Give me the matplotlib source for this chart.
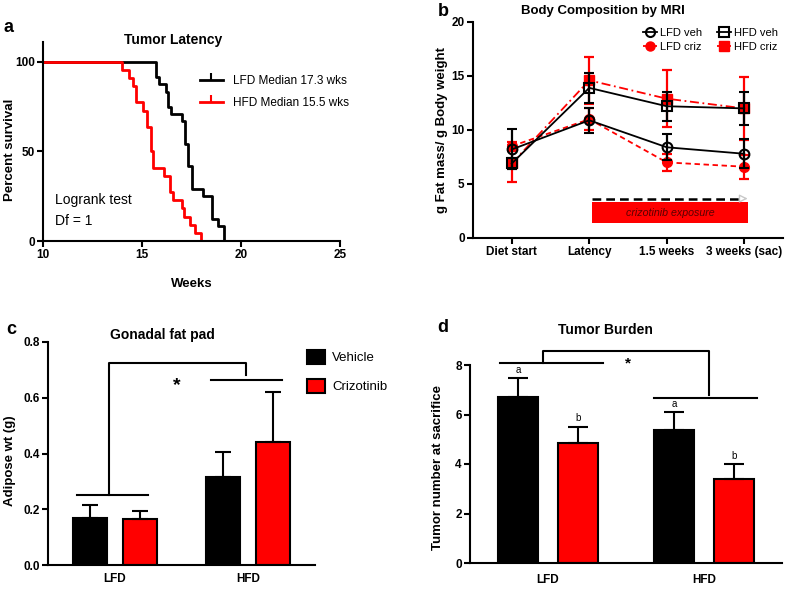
import matplotlib
matplotlib.use('Agg')
import matplotlib.pyplot as plt
from matplotlib.patches import Rectangle, Patch
from matplotlib.lines import Line2D

plt.rcParams['font.family'] = ['Liberation Sans', 'DejaVu Sans']

W, H = 785, 589

# ---------------- Panel a: survival ----------------
lfd_weeks = [0, 15.7, 15.87, 16.2, 16.33, 16.45, 17.0, 17.15, 17.3, 17.55, 18.1, 18.55, 18.85, 19.15]
lfd_surv = [100, 91.7, 87.5, 83.3, 75.0, 70.8, 66.7, 54.2, 41.7, 29.2, 25.0, 12.5, 8.3, 0]
hfd_weeks = [0, 13.97, 14.36, 14.53, 14.68, 15.03, 15.24, 15.44, 15.57, 16.11, 16.41, 16.55,
             17.0, 17.1, 17.4, 17.68, 18.0]
hfd_surv = [100, 95.5, 90.9, 86.4, 77.3, 72.7, 63.6, 50.0, 40.9, 36.4, 27.3, 22.7,
            18.2, 13.6, 9.1, 4.5, 0]
surv_labels = ['LFD Median 17.3 wks', 'HFD Median 15.5 wks']

# ---------------- Panel b: body composition ----------------
timepoints = ['Diet start', 'Latency', '1.5 weeks', '3 weeks (sac)']
lfd_veh = [8.2, 10.9, 8.4, 7.8]
lfd_veh_err = [1.85, 1.15, 1.2, 1.35]
lfd_criz = [8.5, 11.0, 7.0, 6.6]
lfd_criz_err = [0.4, 1.0, 0.75, 1.1]
hfd_veh = [6.9, 13.9, 12.2, 12.0]
hfd_veh_err = [0.55, 1.4, 1.35, 1.5]
hfd_criz = [6.9, 14.6, 12.9, 12.0]
hfd_criz_err = [1.7, 2.2, 2.65, 2.9]

# ---------------- Panel c: gonadal fat ----------------
diets = ['LFD', 'HFD']
fat_vehicle = [0.17, 0.315]
fat_vehicle_err = [0.047, 0.09]
fat_criz = [0.166, 0.44]
fat_criz_err = [0.027, 0.18]

# ---------------- Panel d: tumor burden ----------------
tumor_vehicle = [6.72, 5.37]
tumor_vehicle_err = [0.75, 0.73]
tumor_criz = [4.85, 3.39]
tumor_criz_err = [0.65, 0.61]
tumor_letters_vehicle = ['a', 'a']
tumor_letters_criz = ['b', 'b']

RED = '#ff0000'
BLK = '#000000'

fig = plt.figure(figsize=(W / 100, H / 100), dpi=100)


def add_axes_px(left, right, top, bottom):
    return fig.add_axes([left / W, (H - bottom) / H, (right - left) / W, (bottom - top) / H])


def style(ax, lw=1.5):
    for s in ['top', 'right']:
        ax.spines[s].set_visible(False)
    for s in ['left', 'bottom']:
        ax.spines[s].set_linewidth(lw)
    ax.tick_params(direction='out', width=lw, length=4, labelsize=8.5, pad=2)


def bold_ticks(ax):
    for lab in ax.get_xticklabels() + ax.get_yticklabels():
        lab.set_fontweight('bold')


def ftext(px, py, s, **kw):
    fig.text(px / W, 1 - py / H, s, **kw)


# ======== Panel a ========
axA = add_axes_px(43, 340, 42, 241)
style(axA)
axA.step(lfd_weeks, lfd_surv, where='post', color=BLK, lw=2)
axA.step(hfd_weeks, hfd_surv, where='post', color=RED, lw=2)
axA.set_xlim(10, 25)
axA.set_ylim(0, 111)
axA.set_xticks([10, 15, 20, 25])
axA.set_yticks([0, 50, 100])
axA.set_xlabel('Weeks', fontsize=9.5, fontweight='bold', labelpad=12)
axA.set_ylabel('Percent survival', fontsize=9.5, fontweight='bold')
axA.yaxis.set_label_coords(-0.090, 0.46)
bold_ticks(axA)
axA.text(0.438, 1.01, 'Tumor Latency', transform=axA.transAxes, ha='center', va='center',
         fontsize=10, fontweight='bold')
axA.text(0.04, 0.205, 'Logrank test', transform=axA.transAxes, fontsize=10, va='center')
axA.text(0.04, 0.10, 'Df = 1', transform=axA.transAxes, fontsize=10, va='center')
hA = [Line2D([0], [0], color=BLK, lw=2, marker=2, markersize=5, markeredgewidth=1.5),
      Line2D([0], [0], color=RED, lw=2, marker=2, markersize=5, markeredgewidth=1.5)]
axA.legend(hA, surv_labels, loc='upper left', bbox_to_anchor=(0.529, 0.835), frameon=False,
           fontsize=8.5, borderpad=0, borderaxespad=0, handlelength=1.9, handletextpad=0.9,
           labelspacing=0.85, numpoints=1)

# ======== Panel b ========
axB = add_axes_px(473, 783, 22, 238)
style(axB)
xb = list(range(len(timepoints)))
ekw = dict(capsize=3.5, elinewidth=1.6, capthick=1.6)
axB.errorbar(xb, hfd_criz, yerr=hfd_criz_err, color=RED, ls=(0, (5, 2, 1, 2)), lw=1.3,
             marker='s', ms=7, mfc=RED, mec=RED, zorder=3, **ekw)
axB.errorbar(xb, lfd_criz, yerr=lfd_criz_err, color=RED, ls=(0, (3, 2)), lw=1.3,
             marker='o', ms=7, mfc=RED, mec=RED, zorder=3, **ekw)
axB.errorbar(xb, hfd_veh, yerr=hfd_veh_err, color=BLK, ls='-', lw=1.3,
             marker='s', ms=7, mfc='none', mec=BLK, mew=1.5, zorder=4, **ekw)
axB.errorbar(xb, lfd_veh, yerr=lfd_veh_err, color=BLK, ls='-', lw=1.3,
             marker='o', ms=7, mfc='none', mec=BLK, mew=1.5, zorder=4, **ekw)
axB.set_xlim(-0.5, 3.5)
axB.set_ylim(0, 20)
axB.set_xticks(xb)
axB.set_xticklabels(timepoints)
axB.set_yticks([0, 5, 10, 15, 20])
axB.set_ylabel('g Fat mass/ g Body weight', fontsize=9.5, fontweight='bold')
axB.yaxis.set_label_coords(-0.081, 0.5)
bold_ticks(axB)
axB.text(0.419, 1.051, 'Body Composition by MRI', transform=axB.transAxes, ha='center',
         va='center', fontsize=9.5, fontweight='bold')
axB.add_patch(Rectangle((1.03, 1.4), 2.02, 1.9, facecolor=RED, edgecolor='none', zorder=1))
axB.text(2.05, 2.35, 'crizotinib exposure', ha='center', va='center', fontsize=7.7,
         style='italic', color='#5a0000', zorder=2)
axB.plot([1.03, 2.95], [3.65, 3.65], ls=(0, (3.5, 2)), color=BLK, lw=1.8, zorder=2)
axB.annotate('', xy=(3.08, 3.65), xytext=(2.93, 3.65),
             arrowprops=dict(arrowstyle='-|>', color='#c8c8c8', fc='white', lw=1,
                             mutation_scale=12), zorder=2)
hB = [Line2D([0], [0], color=BLK, lw=1.3, marker='o', ms=6.5, mfc='none', mew=1.5),
      Line2D([0], [0], color=RED, lw=1.3, ls=(0, (2, 1)), marker='o', ms=6.5, mfc=RED, mec=RED),
      Line2D([0], [0], color=BLK, lw=1.3, marker='s', ms=6.5, mfc='none', mew=1.5),
      Line2D([0], [0], color=RED, lw=1.3, ls=(0, (2, 1)), marker='s', ms=6.5, mfc=RED, mec=RED)]
axB.legend(hB, ['LFD veh', 'LFD criz', 'HFD veh', 'HFD criz'], ncol=2, loc='upper left',
           bbox_to_anchor=(0.548, 0.972), frameon=False, fontsize=8, borderpad=0,
           borderaxespad=0, handlelength=1.25, handletextpad=0.3, labelspacing=0.35,
           columnspacing=1.3, numpoints=1)

# ======== Panel c ========
axC = add_axes_px(48, 315, 342, 565)
style(axC)
xc = [0, 1]
off, bw = 0.1875, 0.255
bkw = dict(edgecolor=BLK, linewidth=1.5)
axC.bar([x - off for x in xc], fat_vehicle, bw, color=BLK, label='Vehicle',
        yerr=[[0, 0], fat_vehicle_err], error_kw=dict(capsize=6, elinewidth=1.5, capthick=1.5,
                                                       ecolor=BLK), **bkw)
axC.bar([x + off for x in xc], fat_criz, bw, color=RED, label='Crizotinib',
        yerr=[[0, 0], fat_criz_err], error_kw=dict(capsize=6, elinewidth=1.5, capthick=1.5,
                                                    ecolor=BLK), **bkw)
axC.set_xlim(-0.5, 1.5)
axC.set_ylim(0, 0.8)
axC.set_xticks(xc)
axC.set_xticklabels(diets)
axC.tick_params(axis='x', length=0, pad=6)
axC.set_yticks([0.0, 0.2, 0.4, 0.6, 0.8])
axC.set_yticklabels(['0.0', '0.2', '0.4', '0.6', '0.8'])
axC.set_ylabel('Adipose wt (g)', fontsize=9.5, fontweight='bold')
axC.yaxis.set_label_coords(-0.118, 0.47)
bold_ticks(axC)
axC.text(0.427, 1.031, 'Gonadal fat pad', transform=axC.transAxes, ha='center', va='center',
         fontsize=10, fontweight='bold')
bl = dict(color=BLK, lw=1.5, clip_on=False)
axC.plot([-0.285, 0.247], [0.251, 0.251], **bl)
axC.plot([-0.043, -0.043, 0.986, 0.986], [0.251, 0.724, 0.724, 0.68], **bl)
axC.plot([0.724, 1.256], [0.663, 0.663], **bl)
axC.text(0.464, 0.645, '*', ha='center', va='center', fontsize=14, fontweight='bold')
axC.legend(loc='upper left', bbox_to_anchor=(0.97, 0.966), frameon=False, fontsize=9.5,
           borderpad=0, borderaxespad=0, handlelength=1.36, handleheight=1.29,
           handletextpad=0.55, labelspacing=1.1)

# ======== Panel d ========
axD = add_axes_px(470, 782, 365, 563)
style(axD)
xd = [0, 1]
off, bw = 0.19, 0.258
axD.bar([x - off for x in xd], tumor_vehicle, bw, color=BLK,
        yerr=[[0, 0], tumor_vehicle_err], error_kw=dict(capsize=7, elinewidth=1.5, capthick=1.5,
                                                         ecolor=BLK), **bkw)
axD.bar([x + off for x in xd], tumor_criz, bw, color=RED,
        yerr=[[0, 0], tumor_criz_err], error_kw=dict(capsize=7, elinewidth=1.5, capthick=1.5,
                                                      ecolor=BLK), **bkw)
for x, v, e, s in zip(xd, tumor_vehicle, tumor_vehicle_err, tumor_letters_vehicle):
    axD.annotate(s, (x - off, v + e), xytext=(0, 2.5), textcoords='offset points',
                 ha='center', va='bottom', fontsize=7)
for x, v, e, s in zip(xd, tumor_criz, tumor_criz_err, tumor_letters_criz):
    axD.annotate(s, (x + off, v + e), xytext=(0, 2.5), textcoords='offset points',
                 ha='center', va='bottom', fontsize=7)
axD.set_xlim(-0.5, 1.5)
axD.set_ylim(0, 8)
axD.set_xticks(xd)
axD.set_xticklabels(diets)
axD.tick_params(axis='x', length=0, pad=8)
axD.set_yticks([0, 2, 4, 6, 8])
axD.set_ylabel('Tumor number at sacrifice', fontsize=9.5, fontweight='bold')
axD.yaxis.set_label_coords(-0.083, 0.48)
bold_ticks(axD)
axD.text(0.433, 1.177, 'Tumor Burden', transform=axD.transAxes, ha='center', va='center',
         fontsize=10, fontweight='bold')
axD.plot([-0.306, 0.352], [8.08, 8.08], **bl)
axD.plot([-0.029, -0.029, 1.035, 1.035], [8.08, 8.57, 8.57, 6.8], **bl)
axD.plot([0.68, 1.339], [6.67, 6.67], **bl)
axD.text(0.513, 8.05, '*', ha='center', va='center', fontsize=11, fontweight='bold')

# panel letters
for px, py, s in [(9, 28, 'a'), (443, 12, 'b'), (11, 329, 'c'), (443, 327, 'd')]:
    ftext(px, py, s, ha='center', va='center', fontsize=13, fontweight='bold')

fig.savefig('out.png', dpi=100)
